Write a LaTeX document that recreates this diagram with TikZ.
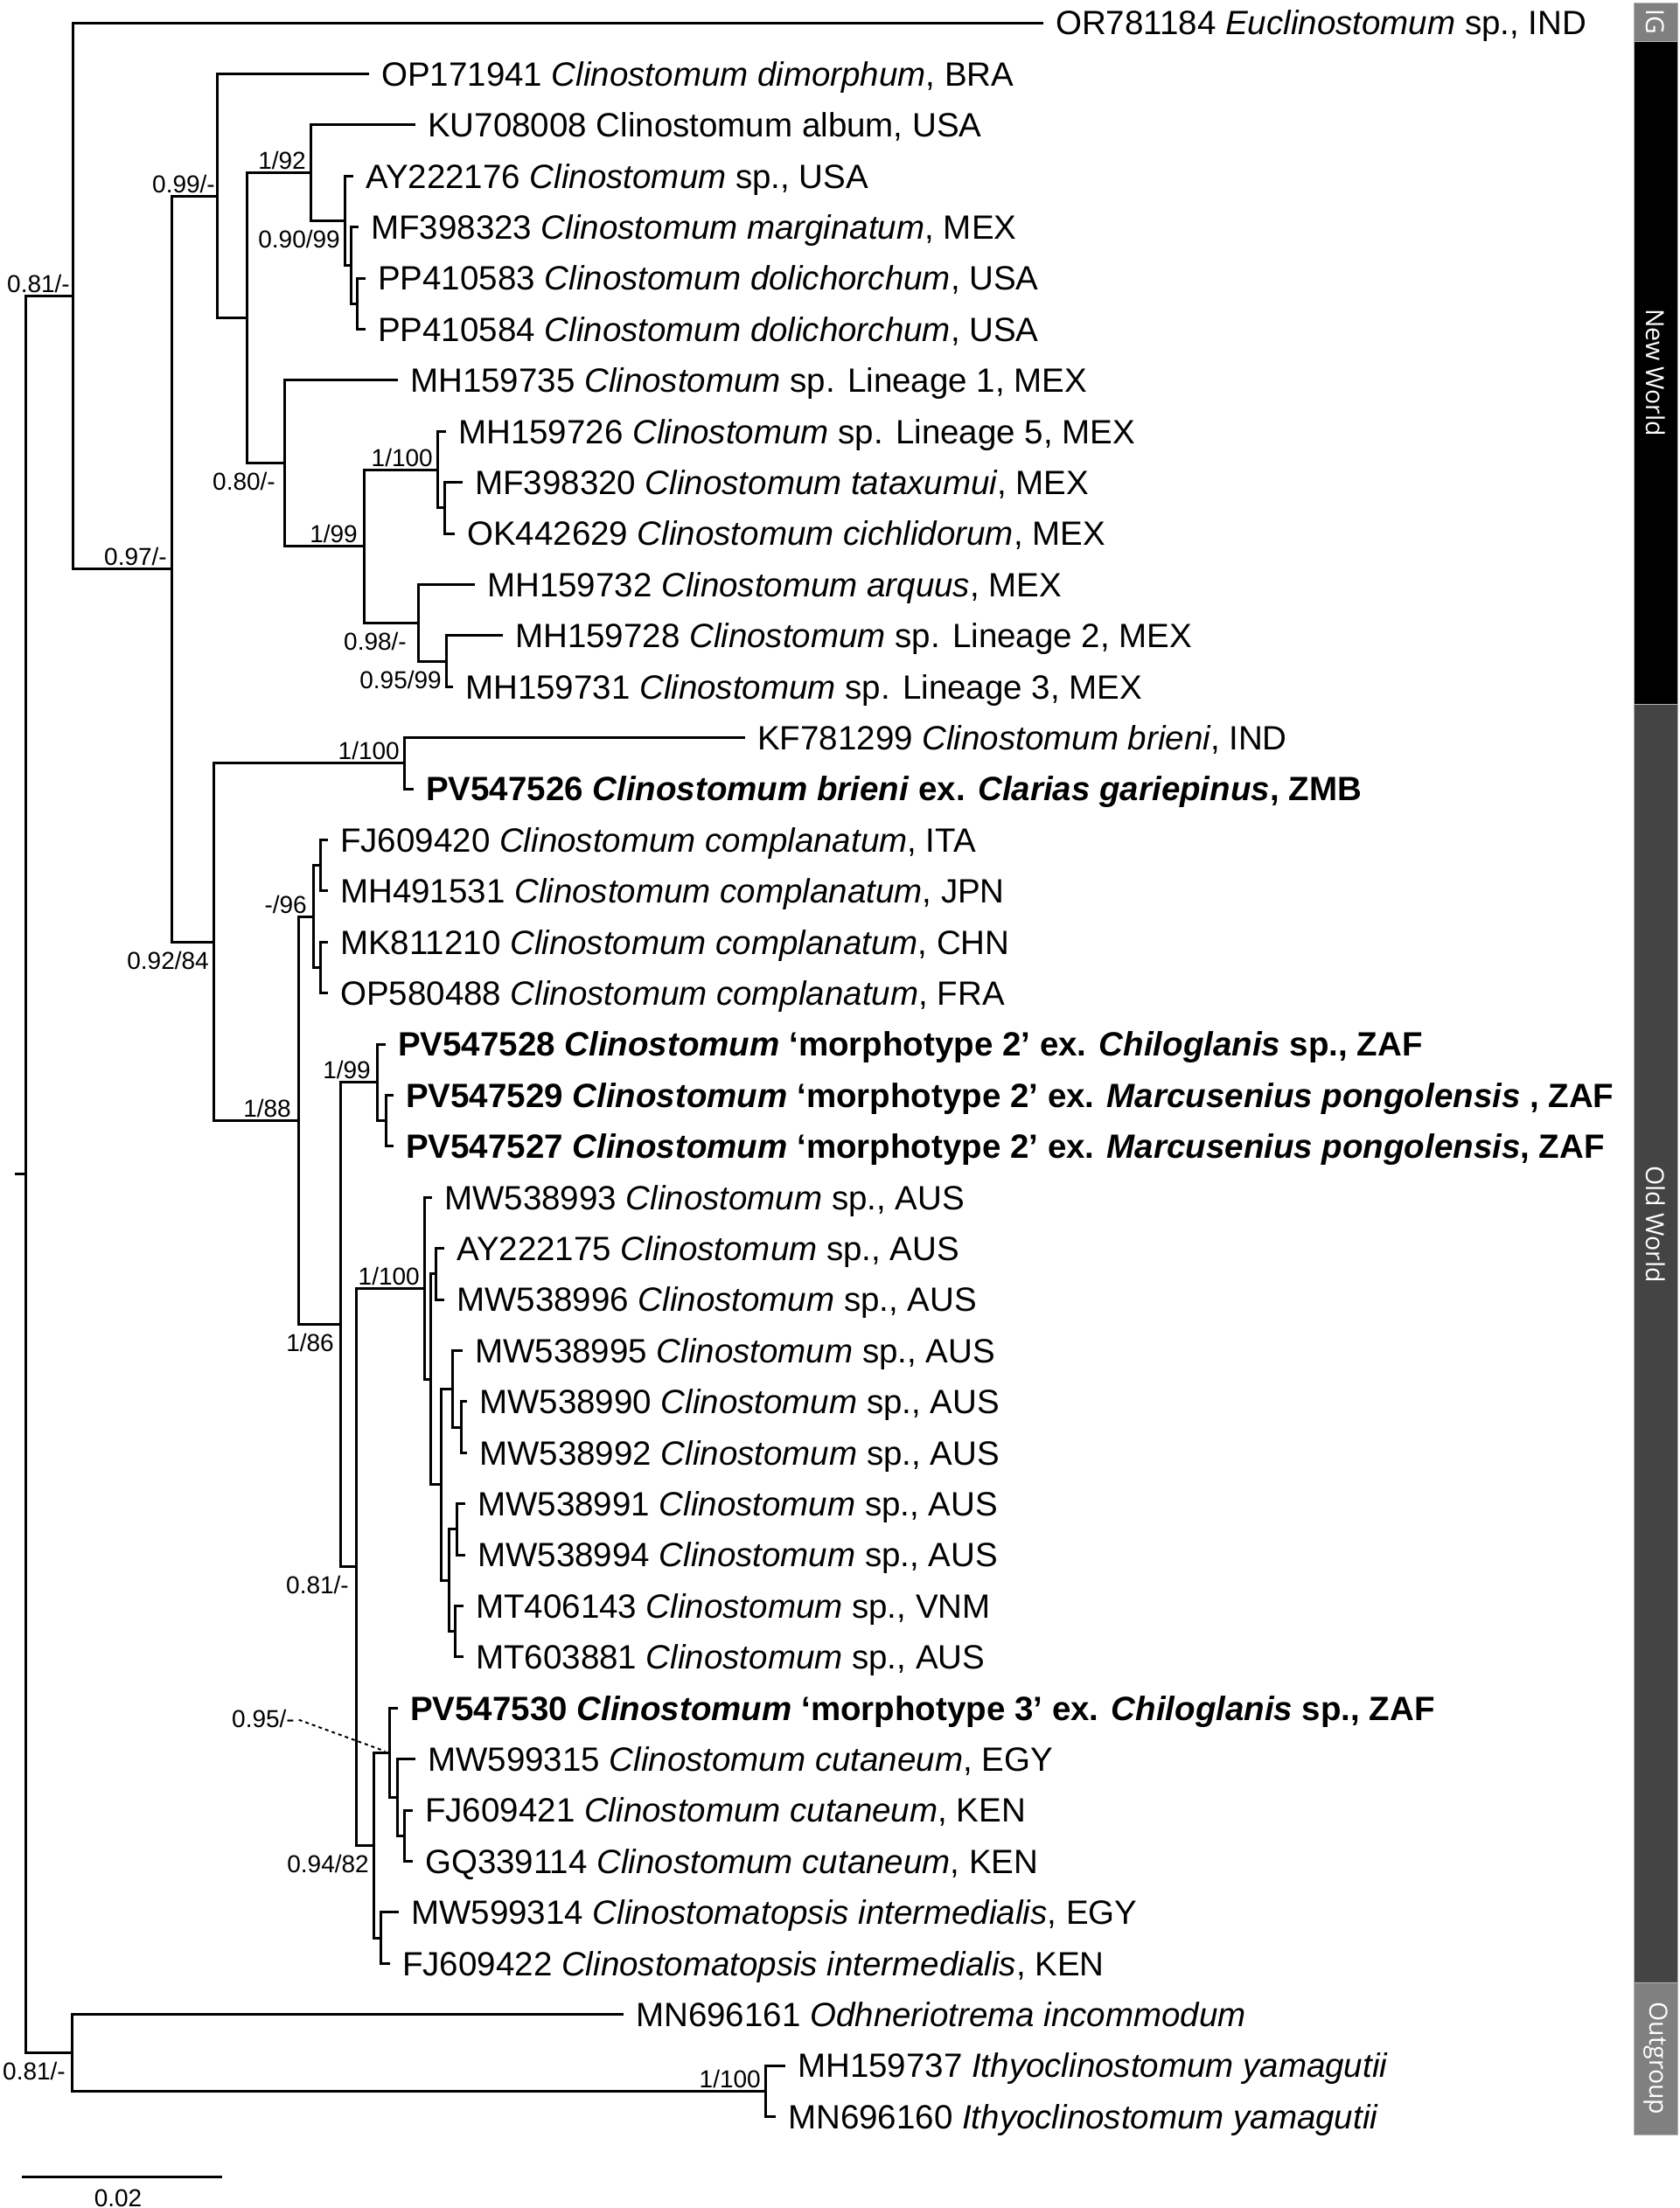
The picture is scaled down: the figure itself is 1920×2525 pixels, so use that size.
\documentclass[tikz,border=0pt]{standalone}
\usepackage{fontspec}
\setmainfont{Liberation Sans}
\newfontfamily\barfont{Open Sans}
\definecolor{igray}{HTML}{808080}
\definecolor{owgray}{HTML}{444444}
\tikzset{
  branch/.style={line width=3pt, line cap=rect},
  taxon/.style={anchor=base west, inner sep=0pt, xshift=16pt, yshift=-13.8pt, font=\fontsize{38.5}{46}\selectfont},
  suppup/.style={anchor=base east, inner sep=0pt, xshift=-5pt, yshift=4pt, font=\fontsize{28}{34}\selectfont},
  suppdown/.style={anchor=base east, inner sep=0pt, xshift=-5pt, yshift=-31pt, font=\fontsize{28}{34}\selectfont},
  cladebar/.style={draw=gray!60, line width=1pt},
  cladetext/.style={text=white, rotate=-90, inner sep=0pt, font=\barfont\fontsize{28.5}{34}\selectfont}
}
\begin{document}
\begin{tikzpicture}[x=1pt,y=-1pt]
  \useasboundingbox (0,0) rectangle (1920,2525);
  % tips
  \coordinate (t01) at (1191,26);
  \coordinate (t02) at (420,84.4);
  \coordinate (t03) at (473,142.8);
  \coordinate (t04) at (402,201.2);
  \coordinate (t05) at (408,259.6);
  \coordinate (t06) at (416,318);
  \coordinate (t07) at (416,376.4);
  \coordinate (t08) at (453,434.8);
  \coordinate (t09) at (508,493.2);
  \coordinate (t10) at (527,551.6);
  \coordinate (t11) at (518,610);
  \coordinate (t12) at (541,668.4);
  \coordinate (t13) at (573,726.8);
  \coordinate (t14) at (516,785.2);
  \coordinate (t15) at (850,843.6);
  \coordinate (t16) at (471,902);
  \coordinate (t17) at (373,960.4);
  \coordinate (t18) at (373,1018.8);
  \coordinate (t19) at (373,1077.2);
  \coordinate (t20) at (373,1135.6);
  \coordinate (t21) at (439,1194);
  \coordinate (t22) at (448,1252.4);
  \coordinate (t23) at (448,1310.8);
  \coordinate (t24) at (492,1369.2);
  \coordinate (t25) at (506,1427.6);
  \coordinate (t26) at (506,1486);
  \coordinate (t27) at (527,1544.4);
  \coordinate (t28) at (532,1602.8);
  \coordinate (t29) at (532,1661.2);
  \coordinate (t30) at (530,1719.6);
  \coordinate (t31) at (530,1778);
  \coordinate (t32) at (528,1836.4);
  \coordinate (t33) at (528,1894.8);
  \coordinate (t34) at (453,1953.2);
  \coordinate (t35) at (473,2011.6);
  \coordinate (t36) at (470,2070);
  \coordinate (t37) at (470,2128.4);
  \coordinate (t38) at (454,2186.8);
  \coordinate (t39) at (444,2245.2);
  \coordinate (t40) at (711,2303.6);
  \coordinate (t41) at (896,2362);
  \coordinate (t42) at (885,2420.4);

  % internal nodes
  \coordinate (stub) at (18,1342.9);
  \coordinate (root) at (29,1342.9);
  \coordinate (nA) at (83,338.3);
  \coordinate (nB) at (196,650.6);
  \coordinate (nC) at (248,224);
  \coordinate (nE) at (282,363.6);
  \coordinate (nF) at (355,197.6);
  \coordinate (nH) at (394,252.3);
  \coordinate (nI) at (401,303.4);
  \coordinate (nJ) at (408,347.2);
  \coordinate (nG) at (325,529.7);
  \coordinate (nK) at (416,624.6);
  \coordinate (nL) at (500,537);
  \coordinate (nN) at (508,580.8);
  \coordinate (nM) at (478,712.2);
  \coordinate (nO) at (510,756);
  \coordinate (nD) at (244,1077.1);
  \coordinate (nP) at (462,872.8);
  \coordinate (nQ) at (341,1281.4);
  \coordinate (nR) at (358,1048);
  \coordinate (nT) at (366,989.6);
  \coordinate (nU) at (366,1106.4);
  \coordinate (nS) at (389,1514.8);
  \coordinate (nV) at (431,1237.8);
  \coordinate (nX) at (441,1281.6);
  \coordinate (nW) at (407,1791.7);
  \coordinate (nAus) at (485,1473.2);
  \coordinate (nAus1) at (492,1577.3);
  \coordinate (nAus2) at (498,1456.8);
  \coordinate (nAus3) at (504,1697.7);
  \coordinate (nAus4) at (517,1588.2);
  \coordinate (nAus5) at (527,1632);
  \coordinate (nAus6) at (513,1807.2);
  \coordinate (nAus7) at (522,1748.8);
  \coordinate (nAus8) at (520,1865.6);
  \coordinate (nZ) at (427,2110.2);
  \coordinate (nCut) at (445,2004.3);
  \coordinate (nCut1) at (454,2055.4);
  \coordinate (nCut2) at (462,2099.2);
  \coordinate (nInt) at (435,2216);
  \coordinate (nOG) at (82,2347.4);
  \coordinate (nIth) at (875,2391.2);

  % branches
  \draw[branch] (stub) -- (root);
  \draw[branch] (root) |- (nA) (root) |- (nOG);
  \draw[branch] (nA) |- (t01) (nA) |- (nB);
  \draw[branch] (nB) |- (nC) (nB) |- (nD);
  \draw[branch] (nC) |- (t02) (nC) |- (nE);
  \draw[branch] (nE) |- (nF) (nE) |- (nG);
  \draw[branch] (nF) |- (t03) (nF) |- (nH);
  \draw[branch] (nH) |- (t04) (nH) |- (nI);
  \draw[branch] (nI) |- (t05) (nI) |- (nJ);
  \draw[branch] (nJ) |- (t06) (nJ) |- (t07);
  \draw[branch] (nG) |- (t08) (nG) |- (nK);
  \draw[branch] (nK) |- (nL) (nK) |- (nM);
  \draw[branch] (nL) |- (t09) (nL) |- (nN);
  \draw[branch] (nN) |- (t10) (nN) |- (t11);
  \draw[branch] (nM) |- (t12) (nM) |- (nO);
  \draw[branch] (nO) |- (t13) (nO) |- (t14);
  \draw[branch] (nD) |- (nP) (nD) |- (nQ);
  \draw[branch] (nP) |- (t15) (nP) |- (t16);
  \draw[branch] (nQ) |- (nR) (nQ) |- (nS);
  \draw[branch] (nR) |- (nT) (nR) |- (nU);
  \draw[branch] (nT) |- (t17) (nT) |- (t18);
  \draw[branch] (nU) |- (t19) (nU) |- (t20);
  \draw[branch] (nS) |- (nV) (nS) |- (nW);
  \draw[branch] (nV) |- (t21) (nV) |- (nX);
  \draw[branch] (nX) |- (t22) (nX) |- (t23);
  \draw[branch] (nW) |- (nAus) (nW) |- (nZ);
  \draw[branch] (nAus) |- (t24) (nAus) |- (nAus1);
  \draw[branch] (nAus1) |- (nAus2) (nAus1) |- (nAus3);
  \draw[branch] (nAus2) |- (t25) (nAus2) |- (t26);
  \draw[branch] (nAus3) |- (nAus4) (nAus3) |- (nAus6);
  \draw[branch] (nAus4) |- (t27) (nAus4) |- (nAus5);
  \draw[branch] (nAus5) |- (t28) (nAus5) |- (t29);
  \draw[branch] (nAus6) |- (nAus7) (nAus6) |- (nAus8);
  \draw[branch] (nAus7) |- (t30) (nAus7) |- (t31);
  \draw[branch] (nAus8) |- (t32) (nAus8) |- (t33);
  \draw[branch] (nZ) |- (nCut) (nZ) |- (nInt);
  \draw[branch] (nCut) |- (t34) (nCut) |- (nCut1);
  \draw[branch] (nCut1) |- (t35) (nCut1) |- (nCut2);
  \draw[branch] (nCut2) |- (t36) (nCut2) |- (t37);
  \draw[branch] (nInt) |- (t38) (nInt) |- (t39);
  \draw[branch] (nOG) |- (t40) (nOG) |- (nIth);
  \draw[branch] (nIth) |- (t41) (nIth) |- (t42);

  % taxa
  \node[taxon] (l01) at (t01) {OR781184 \textit{Euclinostomum} sp., IND};
  \node[taxon] (l02) at (t02) {OP171941 \textit{Clinostomum dimorphum}, BRA};
  \node[taxon] (l03) at (t03) {KU708008 Clinostomum album, USA};
  \node[taxon] (l04) at (t04) {AY222176 \textit{Clinostomum} sp., USA};
  \node[taxon] (l05) at (t05) {MF398323 \textit{Clinostomum marginatum}, MEX};
  \node[taxon] (l06) at (t06) {PP410583 \textit{Clinostomum dolichorchum}, USA};
  \node[taxon] (l07) at (t07) {PP410584 \textit{Clinostomum dolichorchum}, USA};
  \node[taxon] (l08) at (t08) {MH159735 \textit{Clinostomum} sp. Lineage 1, MEX};
  \node[taxon] (l09) at (t09) {MH159726 \textit{Clinostomum} sp. Lineage 5, MEX};
  \node[taxon] (l10) at (t10) {MF398320 \textit{Clinostomum tataxumui}, MEX};
  \node[taxon] (l11) at (t11) {OK442629 \textit{Clinostomum cichlidorum}, MEX};
  \node[taxon] (l12) at (t12) {MH159732 \textit{Clinostomum arquus}, MEX};
  \node[taxon] (l13) at (t13) {MH159728 \textit{Clinostomum} sp. Lineage 2, MEX};
  \node[taxon] (l14) at (t14) {MH159731 \textit{Clinostomum} sp. Lineage 3, MEX};
  \node[taxon] (l15) at (t15) {KF781299 \textit{Clinostomum brieni}, IND};
  \node[taxon] (l16) at (t16) {\bfseries PV547526 \textit{Clinostomum brieni} ex. \textit{Clarias gariepinus}, ZMB};
  \node[taxon] (l17) at (t17) {FJ609420 \textit{Clinostomum complanatum}, ITA};
  \node[taxon] (l18) at (t18) {MH491531 \textit{Clinostomum complanatum}, JPN};
  \node[taxon] (l19) at (t19) {MK811210 \textit{Clinostomum complanatum}, CHN};
  \node[taxon] (l20) at (t20) {OP580488 \textit{Clinostomum complanatum}, FRA};
  \node[taxon] (l21) at (t21) {\bfseries PV547528 \textit{Clinostomum} ‘morphotype 2’ ex. \textit{Chiloglanis} sp., ZAF};
  \node[taxon] (l22) at (t22) {\bfseries PV547529 \textit{Clinostomum} ‘morphotype 2’ ex. \textit{Marcusenius pongolensis} , ZAF};
  \node[taxon] (l23) at (t23) {\bfseries PV547527 \textit{Clinostomum} ‘morphotype 2’ ex. \textit{Marcusenius pongolensis}, ZAF};
  \node[taxon] (l24) at (t24) {MW538993 \textit{Clinostomum} sp., AUS};
  \node[taxon] (l25) at (t25) {AY222175 \textit{Clinostomum} sp., AUS};
  \node[taxon] (l26) at (t26) {MW538996 \textit{Clinostomum} sp., AUS};
  \node[taxon] (l27) at (t27) {MW538995 \textit{Clinostomum} sp., AUS};
  \node[taxon] (l28) at (t28) {MW538990 \textit{Clinostomum} sp., AUS};
  \node[taxon] (l29) at (t29) {MW538992 \textit{Clinostomum} sp., AUS};
  \node[taxon] (l30) at (t30) {MW538991 \textit{Clinostomum} sp., AUS};
  \node[taxon] (l31) at (t31) {MW538994 \textit{Clinostomum} sp., AUS};
  \node[taxon] (l32) at (t32) {MT406143 \textit{Clinostomum} sp., VNM};
  \node[taxon] (l33) at (t33) {MT603881 \textit{Clinostomum} sp., AUS};
  \node[taxon] (l34) at (t34) {\bfseries PV547530 \textit{Clinostomum} ‘morphotype 3’ ex. \textit{Chiloglanis} sp., ZAF};
  \node[taxon] (l35) at (t35) {MW599315 \textit{Clinostomum cutaneum}, EGY};
  \node[taxon] (l36) at (t36) {FJ609421 \textit{Clinostomum cutaneum}, KEN};
  \node[taxon] (l37) at (t37) {GQ339114 \textit{Clinostomum cutaneum}, KEN};
  \node[taxon] (l38) at (t38) {MW599314 \textit{Clinostomatopsis intermedialis}, EGY};
  \node[taxon] (l39) at (t39) {FJ609422 \textit{Clinostomatopsis intermedialis}, KEN};
  \node[taxon] (l40) at (t40) {MN696161 \textit{Odhneriotrema incommodum}};
  \node[taxon] (l41) at (t41) {MH159737 \textit{Ithyoclinostomum yamagutii}};
  \node[taxon] (l42) at (t42) {MN696160 \textit{Ithyoclinostomum yamagutii}};

  % support values
  \node[suppup, xshift=2pt] (sA) at (nA) {0.81/-};
  \node[suppup] (sB) at (nB) {0.97/-};
  \node[suppup, xshift=3pt] (sC) at (nC) {0.99/-};
  \node[suppup] (sF) at (nF) {1/92};
  \node[suppdown] (sH) at (nH) {0.90/99};
  \node[suppdown, xshift=-5pt] (sG) at (nG) {0.80/-};
  \node[suppup, xshift=-2pt] (sK) at (nK) {1/99};
  \node[suppup] (sL) at (nL) {1/100};
  \node[suppdown, xshift=-8pt] (sM) at (nM) {0.98/-};
  \node[suppdown] (sO) at (nO) {0.95/99};
  \node[suppdown] (sD) at (nD) {0.92/84};
  \node[suppup] (sP) at (nP) {1/100};
  \node[suppup, xshift=-3pt] (sQ) at (nQ) {1/88};
  \node[suppup, xshift=-2pt] (sR) at (nR) {-/96};
  \node[suppup, xshift=-2pt] (sV) at (nV) {1/99};
  \node[suppdown, xshift=-2pt] (sS) at (nS) {1/86};
  \node[suppup] (sAus) at (nAus) {1/100};
  \node[suppdown, xshift=-3pt] (sW) at (nW) {0.81/-};
  \node[suppdown] (sZ) at (nZ) {0.94/82};
  \node[suppdown, xshift=-2pt] (sOG) at (nOG) {0.81/-};
  \node[suppup] (sIth) at (nIth) {1/100};
  \node[suppup, xshift=5pt] (sCut) at (337,1979) {0.95/-};
  \draw[line width=2pt, dash pattern=on 4pt off 4pt, shorten <=5pt, shorten >=5pt] (sCut.east) -- (nCut);

  % scale bar
  \coordinate (sb0) at (25,2489);
  \coordinate (sb1) at (254,2489);
  \draw[line width=3pt] (sb0) -- (sb1);
  \node[anchor=base, inner sep=0pt, font=\fontsize{28}{34}\selectfont] (sbval) at (135,2523) {0.02};

  % clade bar
  \filldraw[cladebar, fill=igray] (1868,3) rectangle (1918,47);
  \filldraw[cladebar, fill=black] (1868,47) rectangle (1918,805);
  \filldraw[cladebar, fill=owgray] (1868,805) rectangle (1918,2267);
  \filldraw[cladebar, fill=igray] (1868,2267) rectangle (1918,2441);
  \node[cladetext] (bIG) at (1893,25) {IG};
  \node[cladetext] (bNW) at (1893,426) {New World};
  \node[cladetext] (bOW) at (1893,1400) {Old World};
  \node[cladetext] (bOG) at (1893,2354) {Outgroup};
\end{tikzpicture}
\end{document}
